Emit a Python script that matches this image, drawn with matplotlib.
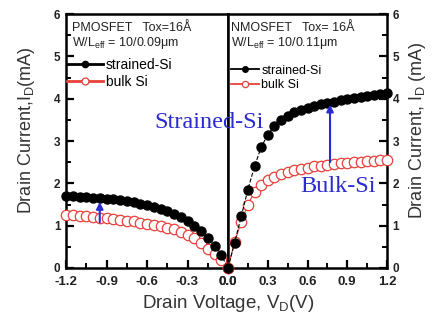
import matplotlib
matplotlib.use("Agg")
import matplotlib.pyplot as plt
from matplotlib.ticker import MultipleLocator
from matplotlib.lines import Line2D

plt.rcParams['font.family'] = ['Liberation Sans', 'DejaVu Sans']

# ---------------- data ----------------
v_p = [-1.2, -1.15, -1.1, -1.05, -1.0, -0.95, -0.9, -0.85, -0.8, -0.75, -0.7, -0.65,
       -0.6, -0.55, -0.5, -0.45, -0.4, -0.35, -0.3, -0.25, -0.2, -0.15, -0.1, -0.05, 0.0]
p_strained = [1.70, 1.69, 1.68, 1.67, 1.66, 1.65, 1.64, 1.62, 1.60, 1.58, 1.55, 1.52,
              1.48, 1.44, 1.40, 1.34, 1.28, 1.20, 1.11, 1.00, 0.87, 0.72, 0.53, 0.30, 0.0]
p_bulk = [1.26, 1.25, 1.24, 1.23, 1.21, 1.19, 1.18, 1.16, 1.14, 1.12, 1.10, 1.07,
          1.05, 1.02, 0.99, 0.95, 0.91, 0.85, 0.78, 0.70, 0.58, 0.46, 0.33, 0.18, 0.0]

v_n = [0.0, 0.05, 0.1, 0.15, 0.2, 0.25, 0.3, 0.35, 0.4, 0.45, 0.5, 0.55, 0.6,
       0.65, 0.7, 0.75, 0.8, 0.85, 0.9, 0.95, 1.0, 1.05, 1.1, 1.15, 1.2]
n_strained = [0.0, 0.60, 1.22, 1.85, 2.40, 2.85, 3.15, 3.36, 3.50, 3.60, 3.68, 3.74, 3.79,
              3.83, 3.87, 3.90, 3.93, 3.96, 3.99, 4.01, 4.04, 4.07, 4.09, 4.12, 4.14]
n_bulk = [0.0, 0.62, 1.08, 1.50, 1.80, 1.95, 2.07, 2.15, 2.22, 2.27, 2.31, 2.34, 2.37,
          2.40, 2.42, 2.44, 2.46, 2.47, 2.49, 2.50, 2.51, 2.52, 2.53, 2.54, 2.55]

# arrows: (V, from I, to I)
arrow_p = (-0.95, 1.08, 1.56)
arrow_n = (0.77, 2.50, 3.86)

xt_p = [-1.2, -0.9, -0.6, -0.3, 0.0]
xt_n = [0.0, 0.3, 0.6, 0.9, 1.2]
yt = [0, 1, 2, 3, 4, 5, 6]

W, H = 433, 320
fig = plt.figure(figsize=(W / 100, H / 100), dpi=100)

def fx(px):
    return px / W

def fy(py):
    return 1 - py / H

ax1 = fig.add_axes([fx(66), fy(268), fx(228) - fx(66), fy(14) - fy(268)])
ax2 = fig.add_axes([fx(228), fy(268), fx(387) - fx(228), fy(14) - fy(268)])

red = '#e8403a'
blue = '#2a2ad0'
tcol = '#222222'

for ax, v, s, b in ((ax1, v_p, p_strained, p_bulk), (ax2, v_n, n_strained, n_bulk)):
    ax.plot(v, b, '-', color=red, lw=0.8, marker='o', ms=7.5, mfc='white',
            mec=red, mew=0.9, clip_on=False, zorder=3)
    ax.plot(v, s, '--', color='black', lw=0.8, marker='o', ms=6.5, mfc='black',
            mec='black', clip_on=False, zorder=4)
    ax.set_ylim(0, 6)
    for sp in ax.spines.values():
        sp.set_linewidth(1.8)
    ax.yaxis.set_minor_locator(MultipleLocator(0.5))
    ax.xaxis.set_minor_locator(MultipleLocator(0.15))
    ax.tick_params(which='major', direction='in', length=6, width=1.6)
    ax.tick_params(which='minor', direction='in', length=3.5, width=1.4)
    ax.tick_params(axis='x', labelsize=9.5, colors='black', pad=6)
    ax.tick_params(axis='y', labelsize=8.5, colors='black', pad=4)

ax1.set_xlim(-1.2, 0)
ax1.set_xticks(xt_p)
ax1.set_xticklabels(['%.1f' % t for t in xt_p], fontweight='bold', color=tcol)
ax1.set_yticks(yt)
ax1.set_yticklabels([str(t) for t in yt], fontweight='bold', color=tcol)
ax1.tick_params(axis='y', which='both', left=True, right=False)

ax2.set_xlim(0, 1.2)
ax2.set_xticks(xt_n)
ax2.set_xticklabels(['%.1f' % t for t in xt_n], fontweight='bold', color=tcol)
ax2.yaxis.tick_right()
ax2.set_yticks(yt)
ax2.set_yticklabels([str(t) for t in yt], fontweight='bold', color=tcol)
ax2.tick_params(axis='y', which='both', left=False, right=True)

# arrows
for ax, (av, a0, a1) in ((ax1, arrow_p), (ax2, arrow_n)):
    ax.annotate('', xy=(av, a1), xytext=(av, a0),
                arrowprops=dict(arrowstyle='-|>', color=blue, lw=1.5,
                                mutation_scale=10, shrinkA=0, shrinkB=0), zorder=6)

# legends / headers
ax1.text(0.04, 0.945, 'PMOSFET   Tox=16Å', transform=ax1.transAxes, fontsize=9,
         va='center', ha='left', color=tcol)
ax1.text(0.04, 0.885, 'W/L$_{\\mathregular{eff}}$ = 10/0.09μm', transform=ax1.transAxes,
         fontsize=9, va='center', ha='left', color=tcol)
ax2.text(0.02, 0.945, 'NMOSFET   Tox= 16Å', transform=ax2.transAxes, fontsize=9,
         va='center', ha='left', color=tcol)
ax2.text(0.02, 0.885, 'W/L$_{\\mathregular{eff}}$ = 10/0.11μm', transform=ax2.transAxes,
         fontsize=9, va='center', ha='left', color=tcol)

h1 = [Line2D([], [], color='black', lw=2, marker='o', ms=4.5, mfc='black', mec='black'),
      Line2D([], [], color=red, lw=2, marker='o', ms=5, mfc='white', mec=red, mew=0.9)]
h2 = [Line2D([], [], color='black', lw=1.3, marker='o', ms=4, mfc='black', mec='black'),
      Line2D([], [], color=red, lw=1.3, marker='o', ms=4.5, mfc='white', mec=red, mew=0.9)]
ax1.legend(handles=h1, labels=['strained-Si', 'bulk Si'],
           loc='upper left', bbox_to_anchor=(-0.03, 0.85), frameon=False,
           fontsize=10, handlelength=2.6, handletextpad=0.2, labelspacing=0.25,
           borderaxespad=0)
ax2.legend(handles=h2, labels=['strained-Si', 'bulk Si'],
           loc='upper left', bbox_to_anchor=(-0.01, 0.82), frameon=False,
           fontsize=9, handlelength=2.2, handletextpad=0.2, labelspacing=0.2,
           borderaxespad=0)

# annotations
fig.text(fx(209), fy(123), 'Strained-Si', fontsize=17.5, color=blue,
         family=['Liberation Serif', 'DejaVu Serif'], ha='center', va='center')
fig.text(fx(338), fy(186), 'Bulk-Si', fontsize=17.5, color=blue,
         family=['Liberation Serif', 'DejaVu Serif'], ha='center', va='center', zorder=10)

# axis labels
fig.text(fx(228), fy(303), 'Drain Voltage, V$_{\\mathregular{D}}$(V)', fontsize=13.5,
         color='#333333', ha='center', va='center')
fig.text(fx(27), fy(130), 'Drain Current,I$_{\\mathregular{D}}$(mA)', fontsize=13,
         color='#333333', ha='center', va='center', rotation=90)
fig.text(fx(417), fy(130), 'Drain Current, I$_{\\mathregular{D}}$ (mA)', fontsize=13,
         color='#333333', ha='center', va='center', rotation=90)

fig.savefig('out.png', dpi=100)
